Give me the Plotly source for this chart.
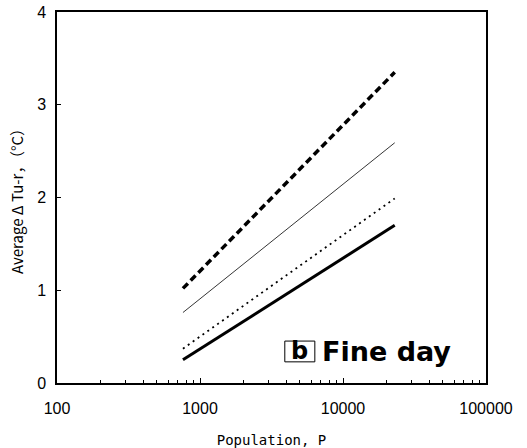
import plotly.graph_objects as go

# Data
pop = [760, 23000]
dashed_thick = [1.02, 3.35]
thin_solid = [0.76, 2.59]
dotted = [0.37, 1.99]
thick_solid = [0.25, 1.70]

x_ticks = [100, 1000, 10000, 100000]
x_ticklabels = ["100", "1000", "10000", "100000"]
x_minor_ticks = [m * d for d in (100, 1000, 10000) for m in range(2, 10)]
y_ticks = [0, 1, 2, 3, 4]

fig = go.Figure()
fig.add_trace(go.Scatter(x=pop, y=dashed_thick, mode="lines",
                         line=dict(color="black", width=3.5, dash="7px,4px")))
fig.add_trace(go.Scatter(x=pop, y=thin_solid, mode="lines",
                         line=dict(color="black", width=0.8)))
fig.add_trace(go.Scatter(x=pop, y=dotted, mode="lines",
                         line=dict(color="black", width=1.8, dash="2px,4px")))
fig.add_trace(go.Scatter(x=pop, y=thick_solid, mode="lines",
                         line=dict(color="black", width=3)))

tickfont = dict(family="Liberation Sans Narrow, Arial Narrow, Liberation Sans", size=16, color="black")

fig.update_layout(
    width=527, height=448,
    margin=dict(l=57, r=41, t=12, b=65),
    paper_bgcolor="white", plot_bgcolor="white",
    showlegend=False,
    xaxis=dict(type="log", range=[2, 5], tickvals=x_ticks, ticktext=x_ticklabels,
               showline=True, linecolor="black", linewidth=1.5, mirror=True,
               ticks="inside", ticklen=5, tickcolor="black", showgrid=False, zeroline=False,
               tickfont=tickfont, ticklabelstandoff=10, automargin=False,
               minor=dict(tickvals=x_minor_ticks, ticks="inside", ticklen=3,
                          tickcolor="black", showgrid=False),
               title=dict(text="Population, P", standoff=20,
                          font=dict(family="DejaVu Sans Mono", size=14, color="black"))),
    yaxis=dict(range=[0, 4], tickvals=y_ticks,
               showline=True, linecolor="black", linewidth=1.5, mirror=True,
               ticks="inside", ticklen=4, tickcolor="black", showgrid=False, zeroline=False,
               tickfont=tickfont, ticklabelstandoff=6, automargin=False,
               title=dict(text="Average Δ Tu-r，（°C）", standoff=10,
                          font=dict(family="Noto Sans CJK JP", size=15, color="black"))),
)

# panel label "b" in a box
fig.add_shape(type="rect", xref="paper", yref="paper", x0=0.531, x1=0.601, y0=0.057, y1=0.113,
              line=dict(color="black", width=1), fillcolor="white")
fig.add_annotation(xref="paper", yref="paper", x=0.566, y=0.085, xanchor="center", yanchor="middle",
                   text="<b>b</b>", showarrow=False,
                   font=dict(family="DejaVu Sans", size=24, color="black"))
fig.add_annotation(xref="paper", yref="paper", x=0.614, y=0.084, xanchor="left", yanchor="middle",
                   text="<b>Fine day</b>", showarrow=False,
                   font=dict(family="DejaVu Sans", size=27, color="black"))

fig.write_html("out.html")
